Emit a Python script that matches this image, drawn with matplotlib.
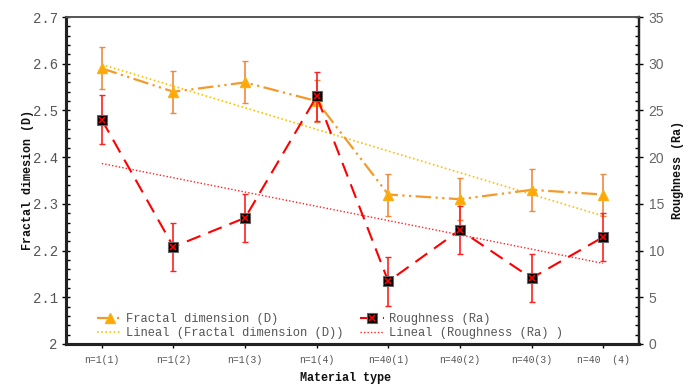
import matplotlib
matplotlib.use("Agg")
import matplotlib.pyplot as plt
import numpy as np
from matplotlib.ticker import MultipleLocator
from matplotlib.legend_handler import HandlerTuple

categories = ["n=1(1)", "n=1(2)", "n=1(3)", "n=1(4)", "n=40(1)", "n=40(2)", "n=40(3)", "n=40  (4)"]
fractal_d = [2.59, 2.54, 2.56, 2.52, 2.32, 2.31, 2.33, 2.32]
fractal_err = [0.045, 0.045, 0.045, 0.045, 0.045, 0.045, 0.045, 0.045]
roughness = [24.0, 10.4, 13.5, 26.5, 6.7, 12.2, 7.05, 11.45]
roughness_err = [2.6, 2.6, 2.6, 2.6, 2.6, 2.6, 2.6, 2.6]

mono = "Liberation Mono"
gray = "#555555"

fig = plt.figure(figsize=(6.94, 3.85), dpi=100)
ax = fig.add_axes([0.0951, 0.1065, 0.8256, 0.8493])
ax2 = ax.twinx()

x = np.arange(len(categories))

# Fractal dimension
ax.errorbar(x, fractal_d, yerr=fractal_err, fmt="none", ecolor="#EE8A40",
            elinewidth=1.2, capsize=2.5, capthick=1, zorder=2)
lf, = ax.plot(x, fractal_d, color="#F39A2B", lw=1.6, dashes=(7, 2, 1, 2, 1, 2),
              marker="^", markersize=6.5, markerfacecolor="#FFA800",
              markeredgecolor="#F7B21B", zorder=3)
cf = np.polyfit(x, fractal_d, 1)
ltf, = ax.plot(x, np.polyval(cf, x), color="#FFC000", lw=1.2, ls=(0, (1, 1.5)), zorder=2)

# Roughness
ax2.errorbar(x, roughness, yerr=roughness_err, fmt="none", ecolor="#FF2020",
             elinewidth=1.2, capsize=2.5, capthick=1, zorder=2)
lr, = ax2.plot(x, roughness, color="#FF0000", lw=1.5, dashes=(7, 4),
               marker="s", markersize=7, markerfacecolor="black",
               markeredgecolor="#666666", markeredgewidth=0.8, zorder=3)
lrx, = ax2.plot(x, roughness, ls="none", marker="x", markersize=5,
                markeredgecolor="#FF0000", markeredgewidth=1.2, zorder=4)
cr = np.polyfit(x, roughness, 1)
ltr, = ax2.plot(x, np.polyval(cr, x), color="#FF2020", lw=1.0, ls=(0, (1, 1.5)), zorder=2)

# Axes limits and ticks
ax.set_xlim(-0.5, len(categories) - 0.5)
ax.yaxis.set_major_locator(MultipleLocator(0.1))
ax.yaxis.set_minor_locator(MultipleLocator(0.02))
ax2.yaxis.set_major_locator(MultipleLocator(5))
ax2.yaxis.set_minor_locator(MultipleLocator(1))
yt = np.round(np.arange(2.0, 2.71, 0.1), 1)
ax.set_yticks(yt)
ax.set_yticklabels(["2" if abs(v - 2) < 1e-9 else f"{v:.1f}" for v in yt],
                   fontfamily=mono)
ax.set_ylim(2.0, 2.7)
ax2.set_ylim(0, 35)

ax.set_xticks(x)
ax.set_xticklabels(categories, fontfamily=mono, fontsize=7, color=gray)
ax.tick_params(axis="x", direction="out", length=3, width=1, pad=5, color="black")
ax.tick_params(axis="y", which="major", direction="inout", length=6, width=1, color="black",
               labelsize=10, labelcolor=gray, pad=3)
ax.tick_params(axis="y", which="minor", direction="in", length=3, width=1, color="black")
ax2.tick_params(axis="y", which="major", direction="inout", length=6, width=1, color="black",
                labelsize=10, labelcolor="#666666", pad=4)
ax2.tick_params(axis="y", which="minor", direction="in", length=3, width=1, color="black")
for t in ax2.get_yticklabels():
    t.set_fontfamily("Liberation Sans")

for a in (ax, ax2):
    a.spines["left"].set_linewidth(2.2)
    a.spines["left"].set_color("#222222")
    a.spines["bottom"].set_linewidth(2.2)
    a.spines["bottom"].set_color("#222222")
    a.spines["right"].set_linewidth(1.6)
    a.spines["right"].set_color("#222222")
    a.spines["top"].set_linewidth(1.2)
    a.spines["top"].set_color("#555555")

fig.text(28 / 694, 1 - 180 / 385, "Fractal dimesion (D)", fontfamily=mono, fontweight="bold",
         fontsize=8.5, color="#111111", rotation=90, ha="center", va="center")
fig.text(678 / 694, 1 - 170 / 385, "Roughness (Ra)", fontfamily=mono, fontweight="bold",
         fontsize=8.5, color="#111111", rotation=90, ha="center", va="center")
fig.text(346 / 694, 1 / 385, "Material type", fontfamily=mono, fontweight="bold",
         fontsize=8.5, color="#111111", ha="center", va="bottom")

leg = ax2.legend([lf, ltf, (lr, lrx), ltr],
                 ["Fractal dimension (D)", "Lineal (Fractal dimension (D))",
                  "Roughness (Ra)", "Lineal (Roughness (Ra) )"],
                 handler_map={tuple: HandlerTuple(ndivide=1, pad=0)},
                 ncol=2, loc="lower left", bbox_to_anchor=(0.038, -0.014),
                 frameon=False, prop={"family": mono, "size": 8.7},
                 labelcolor=gray, handlelength=2.0, handletextpad=0.4,
                 columnspacing=1.3, labelspacing=0.15, borderaxespad=0.4)

fig.savefig("out.png", dpi=100)
